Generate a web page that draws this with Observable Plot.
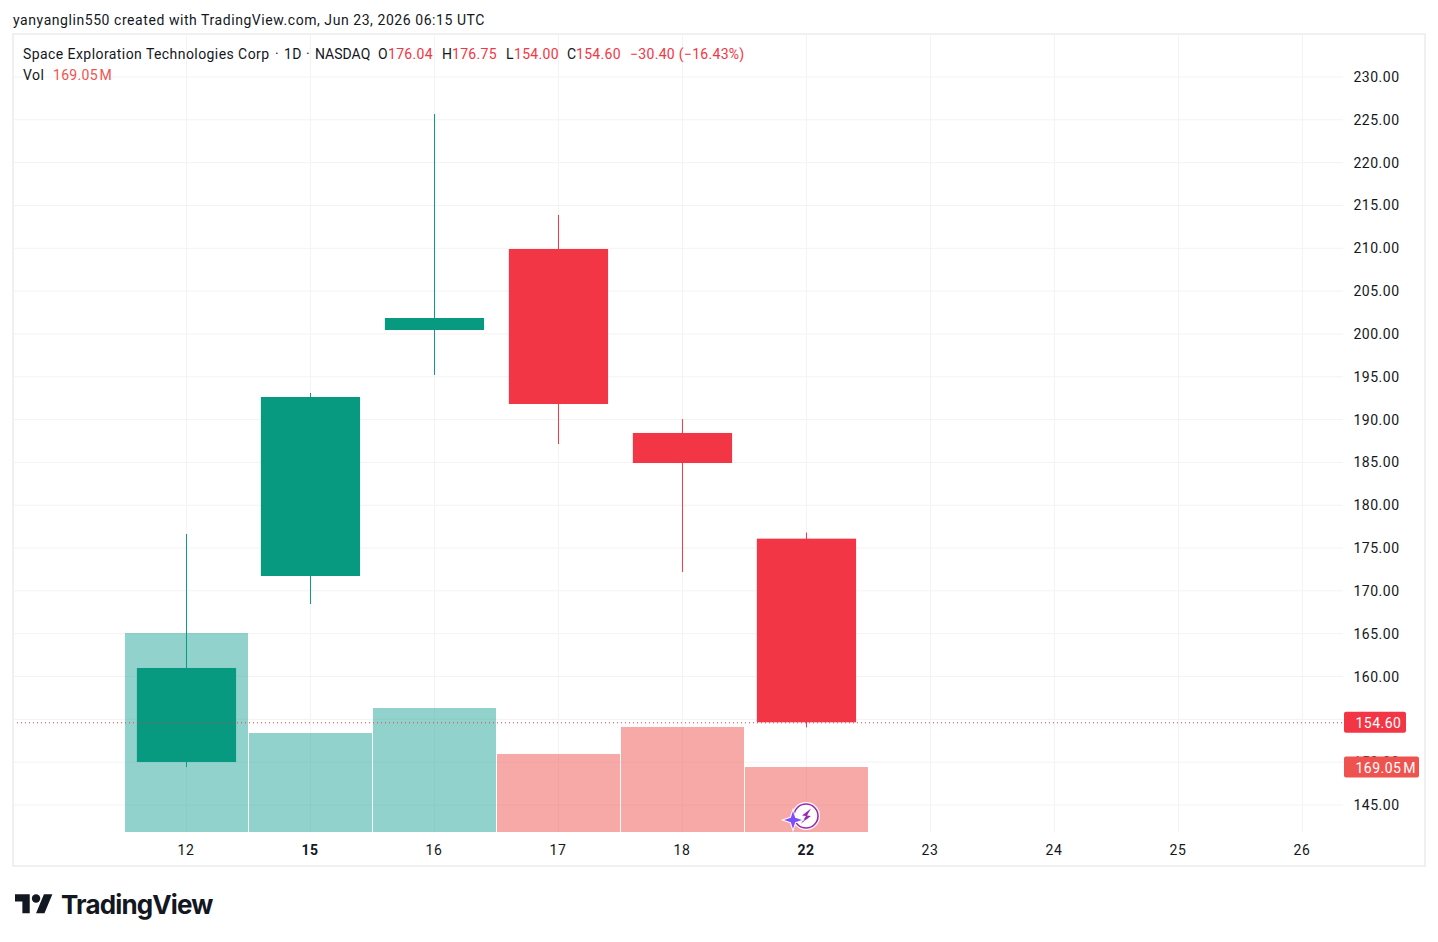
<!DOCTYPE html>
<html>
<head>
<meta charset="utf-8">
<script src="https://cdn.jsdelivr.net/npm/d3@7"></script>
<script src="https://cdn.jsdelivr.net/npm/@observablehq/plot@0.6"></script>
<style>
  html,body{margin:0;padding:0;background:#fff;width:1438px;height:942px;overflow:hidden}
  body{position:relative;font-family:Roboto,sans-serif;color:#131722}
  .abs{position:absolute;white-space:nowrap;font-size:14px;line-height:18px}
  #chart{position:absolute;left:13px;top:34px;width:1412px;height:832px;outline:2px solid #f0f0f0;outline-offset:-1px}
  #chart svg{display:block;background:transparent}
  #chart svg text{letter-spacing:.5px}
  .seg{position:absolute;top:0;white-space:nowrap;letter-spacing:.43px}
  .tight{letter-spacing:0}
  .up{color:#f23645;letter-spacing:.3px}
  .vol{color:#ef5350;letter-spacing:.3px}
</style>
</head>
<body>
<div class="abs" id="credit" style="left:13px;top:11px;letter-spacing:.56px">yanyanglin550 created with TradingView.com, Jun 23, 2026 06:15 UTC</div>
<div id="chart"></div>
<div class="abs" id="legend1" style="left:23px;top:45px;z-index:2;height:18px;width:900px"></div>
<div class="abs" id="legend2" style="left:23px;top:66px;z-index:2;height:18px;width:300px"></div>
<svg id="badge" style="position:absolute;left:780px;top:798px;z-index:3" width="46" height="36" viewBox="0 0 46 36">
  <circle cx="26" cy="18" r="14" fill="#fff"/>
  <circle cx="26" cy="18" r="12" fill="#fff" stroke="#9c27b0" stroke-width="1.6"/>
  <path d="M31 10.5 L22 17.5 L26 18 L21 25.5 L31 18 L27 17.5 Z" fill="#9c27b0"/>
  <path d="M13 13 L15.2 19.8 L22 22 L15.2 24.2 L13 31 L10.8 24.2 L4 22 L10.8 19.8 Z" fill="#7c4dff" stroke="#fff" stroke-width="2" paint-order="stroke"/>
</svg>
<svg id="logo" style="position:absolute;left:15px;top:890px" width="40" height="30" viewBox="0 0 38 28.5">
  <path fill="#131722" d="M14 22H7V11H0V4h14v18zM28 22h-8l7.5-18h8L28 22z"/><circle fill="#131722" cx="20" cy="8" r="4"/>
</svg>
<div class="abs" style="left:61px;top:888px;font:700 26px/34px Inter,sans-serif;letter-spacing:-0.85px;color:#131722">TradingView</div>
<script>
const days   = ["12","15","16","17","18","22","23","24","25","26"];
const boldDays = ["15","22"];
const open   = [149.96,171.68,200.40,209.86,188.38,176.04];
const high   = [176.58,193.05,225.62,213.83,190.00,176.75];
const low    = [149.38,168.41,195.15,187.09,172.15,154.00];
const close  = [160.94,192.58,201.80,191.76,184.87,154.60];
const volume = [517.6,257.5,322.5,202.9,273.1,169.05];
const priceTicks = [145,150,155,160,165,170,175,180,185,190,195,200,205,210,215,220,225,230];
const lastChange = "−30.40 (−16.43%)";

const UP="#089981", DOWN="#f23645", VUP="#26a69a", VDOWN="#ef5350";
const bars = open.map((o,i)=>({i,o,h:high[i],l:low[i],c:close[i],v:volume[i],up:close[i]>=o}));
const yMin = 141.79, yMax = 234.96;
// Volume overlay: maps volume (millions) onto the lower band of the price scale
const volY = v => yMin + v * 0.04489;
const volText = v => v.toFixed(2)+"\u200AM";
const last = bars[bars.length-1];
const axisFont = {fontFamily:"Roboto,sans-serif",fontSize:14};

const plot = Plot.plot({
  width:1412,height:832,
  marginTop:0,marginLeft:0,marginRight:82,marginBottom:34,
  x:{type:"linear",domain:[-1.395,9.331]},
  y:{type:"linear",domain:[yMin,yMax]},
  style:{background:"transparent",overflow:"visible"},
  marks:[
    Plot.gridY(priceTicks,{stroke:"#f3f3f3",strokeOpacity:1}),
    Plot.gridX(days.map((d,i)=>i),{stroke:"#f3f3f3",strokeOpacity:1}),
    Plot.rect(bars,{x1:d=>d.i-0.496,x2:d=>d.i+0.496,dx:0.5,y1:yMin,y2:d=>volY(d.v),fill:d=>d.up?VUP:VDOWN,fillOpacity:0.5}),
    Plot.ruleX(bars,{x:"i",y1:"l",y2:"h",stroke:d=>d.up?UP:DOWN,strokeWidth:1}),
    Plot.rect(bars,{x1:d=>d.i-0.4,x2:d=>d.i+0.4,dx:0.5,y1:"o",y2:"c",fill:d=>d.up?UP:DOWN}),
    Plot.ruleY([last.c],{stroke:DOWN,strokeDasharray:"1,3",strokeWidth:1}),
    Plot.axisY(priceTicks,{anchor:"right",label:null,tickSize:0,tickPadding:10,dy:0.5,tickFormat:d=>d.toFixed(2),fill:"#131722",...axisFont}),
    Plot.axisX(days.map((d,i)=>i).filter(i=>!boldDays.includes(days[i])),{anchor:"bottom",label:null,tickSize:0,tickPadding:13,dx:-0.5,tickFormat:i=>days[i],fill:"#131722",...axisFont}),
    Plot.axisX(days.map((d,i)=>i).filter(i=>boldDays.includes(days[i])),{anchor:"bottom",label:null,tickSize:0,tickPadding:13,dx:-0.5,tickFormat:i=>days[i],fill:"#131722",fontWeight:"bold",...axisFont}),
    Plot.rect([last],{x1:9.339,x2:9.839,y1:d=>d.c-1.23,y2:d=>d.c+1.23,fill:DOWN,rx:2}),
    Plot.text([last],{x:9.427,y:"c",dy:0.5,textAnchor:"start",text:d=>d.c.toFixed(2),fill:"#fff",...axisFont}),
    Plot.rect([last],{x1:9.339,x2:9.944,y1:d=>volY(d.v)-1.23,y2:d=>volY(d.v)+1.23,fill:VDOWN,rx:2}),
    Plot.text([last],{x:9.427,y:d=>volY(d.v),dy:1.5,textAnchor:"start",text:d=>volText(d.v),fill:"#fff",...axisFont})
  ]
});
document.getElementById("chart").appendChild(plot);

const seg=(x,t,c)=>`<span class="seg ${c||""}" style="left:${x}px">${t}</span>`;
document.getElementById("legend1").innerHTML =
  seg(0,"Space Exploration Technologies Corp")+
  seg(252,"·")+seg(261,"1D")+seg(283,"·")+seg(292,"NASDAQ","tight")+
  seg(355,"O")+seg(365,last.o.toFixed(2),"up")+
  seg(419,"H")+seg(429,last.h.toFixed(2),"up")+
  seg(483,"L")+seg(491,last.l.toFixed(2),"up")+
  seg(544,"C")+seg(553,last.c.toFixed(2),"up")+
  seg(607,lastChange,"up");
document.getElementById("legend2").innerHTML = seg(0,"Vol")+seg(30,volText(last.v),"vol");
</script>
</body>
</html>
